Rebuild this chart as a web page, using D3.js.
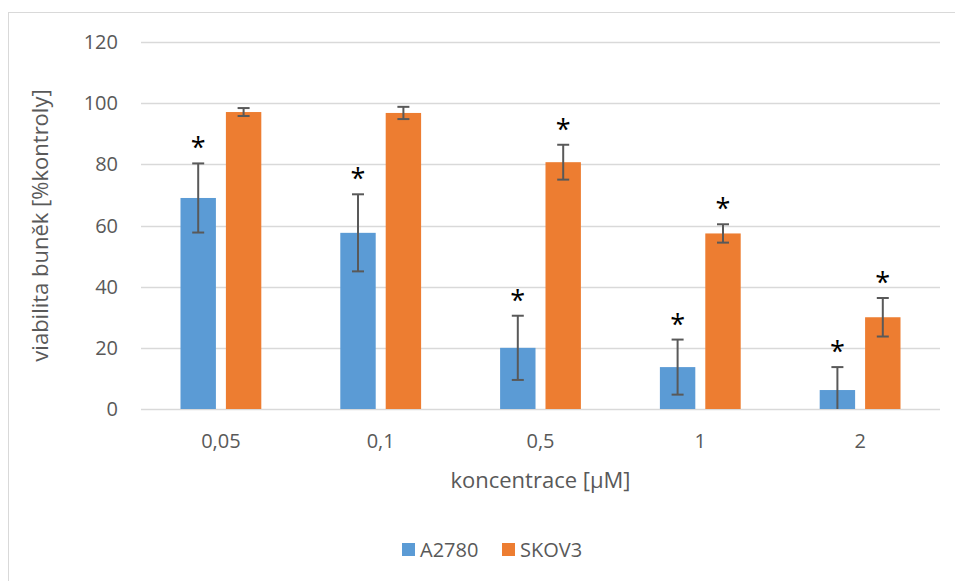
<!DOCTYPE html>
<html>
<head>
<meta charset="utf-8">
<script src="https://cdn.jsdelivr.net/npm/d3@7"></script>
<style>
  body { margin: 0; background: #fff; }
  text { font-family: "Open Sans", "Liberation Sans", sans-serif; fill: #595959; }
</style>
</head>
<body>
<div class="container"></div>
<script>
const width = 955, height = 581;

const categories = ['0,05', '0,1', '0,5', '1', '2'];
const seriesNames = ['A2780', 'SKOV3'];
const colors = ['#5b9bd5', '#ed7d31'];
const a2780 = [69, 57.6, 20, 13.7, 6.2];
const a2780Err = [11.3, 12.6, 10.5, 9, 7.5];
const skov3 = [97.1, 96.8, 80.7, 57.4, 30];
const skov3Err = [1.3, 2, 5.7, 3, 6.3];
const a2780Sig = [true, true, true, true, true];
const skov3Sig = [false, false, true, true, true];
const yTicks = [0, 20, 40, 60, 80, 100, 120];

const plot = {left: 141, right: 940, top: 42, bottom: 409};

const sx = d3.scaleBand().domain(categories).range([plot.left, plot.right]);
const sub = d3.scaleBand().domain(seriesNames).range([0, sx.bandwidth()]).paddingInner(0.22).paddingOuter(0.87);
const sy = d3.scaleLinear().domain([0, 120]).range([plot.bottom, plot.top]);

const svg = d3.select('.container').append('svg')
	.attr('width', width)
	.attr('height', height);

// chart frame
svg.append('rect')
	.attr('x', 8.5).attr('y', 12.5)
	.attr('width', width + 10).attr('height', height + 10)
	.attr('fill', 'none')
	.attr('stroke', '#d9d9d9');

// gridlines
svg.append('g')
	.selectAll('line')
	.data(yTicks)
	.join('line')
	.attr('x1', plot.left).attr('x2', plot.right)
	.attr('y1', d => Math.round(sy(d)) + 0.5)
	.attr('y2', d => Math.round(sy(d)) + 0.5)
	.attr('stroke', '#d9d9d9')
	.attr('stroke-width', 1.3);

// y tick labels
svg.append('g')
	.selectAll('text')
	.data(yTicks)
	.join('text')
	.attr('x', 118)
	.attr('y', d => sy(d))
	.attr('dy', '0.35em')
	.attr('text-anchor', 'end')
	.attr('font-size', 20)
	.text(d => d);

// x tick labels
svg.append('g')
	.selectAll('text')
	.data(categories)
	.join('text')
	.attr('x', d => sx(d) + sx.bandwidth() / 2)
	.attr('y', 441)
	.attr('dy', '0.35em')
	.attr('text-anchor', 'middle')
	.attr('font-size', 20)
	.text(d => d);

const series = [
	{name: 'A2780', vals: a2780, err: a2780Err, sig: a2780Sig, color: colors[0]},
	{name: 'SKOV3', vals: skov3, err: skov3Err, sig: skov3Sig, color: colors[1]}
];

series.forEach(s => {
	const g = svg.append('g');
	const rows = categories.map((c, i) => ({c: c, v: s.vals[i], e: s.err[i], sig: s.sig[i]}));
	const cx = d => sx(d.c) + sub(s.name) + sub.bandwidth() / 2;

	g.selectAll('rect')
		.data(rows)
		.join('rect')
		.attr('x', d => sx(d.c) + sub(s.name))
		.attr('y', d => sy(d.v))
		.attr('width', sub.bandwidth())
		.attr('height', d => sy(0) - sy(d.v))
		.attr('fill', s.color);

	// error bars
	const eg = g.append('g').attr('stroke', '#595959').attr('stroke-width', 2);
	eg.selectAll('line.v')
		.data(rows)
		.join('line')
		.attr('class', 'v')
		.attr('x1', cx).attr('x2', cx)
		.attr('y1', d => sy(d.v + d.e))
		.attr('y2', d => sy(Math.max(0, d.v - d.e)));
	eg.selectAll('line.t')
		.data(rows)
		.join('line')
		.attr('class', 't')
		.attr('x1', d => cx(d) - 6).attr('x2', d => cx(d) + 6)
		.attr('y1', d => sy(d.v + d.e))
		.attr('y2', d => sy(d.v + d.e));
	eg.selectAll('line.b')
		.data(rows.filter(d => d.v - d.e > 0))
		.join('line')
		.attr('class', 'b')
		.attr('x1', d => cx(d) - 6).attr('x2', d => cx(d) + 6)
		.attr('y1', d => sy(d.v - d.e))
		.attr('y2', d => sy(d.v - d.e));

	// significance marks
	g.selectAll('text')
		.data(rows.filter(d => d.sig))
		.join('text')
		.attr('x', cx)
		.attr('y', d => sy(d.v + d.e) - 6)
		.attr('text-anchor', 'middle')
		.attr('font-size', 27)
		.style('fill', '#000')
		.text('*');
});

// axis titles
svg.append('text')
	.attr('transform', 'translate(40,' + ((plot.top + plot.bottom) / 2) + ') rotate(-90)')
	.attr('text-anchor', 'middle')
	.attr('dy', '0.35em')
	.attr('font-size', 22)
	.text('viabilita buněk [%kontroly]');

svg.append('text')
	.attr('x', (plot.left + plot.right) / 2)
	.attr('y', 480)
	.attr('dy', '0.35em')
	.attr('text-anchor', 'middle')
	.attr('font-size', 22)
	.text('koncentrace [μM]');

// legend
const legend = svg.append('g');
const lx = [402, 502];
seriesNames.forEach((n, i) => {
	legend.append('rect')
		.attr('x', lx[i]).attr('y', 543)
		.attr('width', 13).attr('height', 13)
		.attr('fill', colors[i]);
	legend.append('text')
		.attr('x', lx[i] + 18).attr('y', 550)
		.attr('dy', '0.35em')
		.attr('font-size', 20)
		.text(n);
});
</script>
</body>
</html>
